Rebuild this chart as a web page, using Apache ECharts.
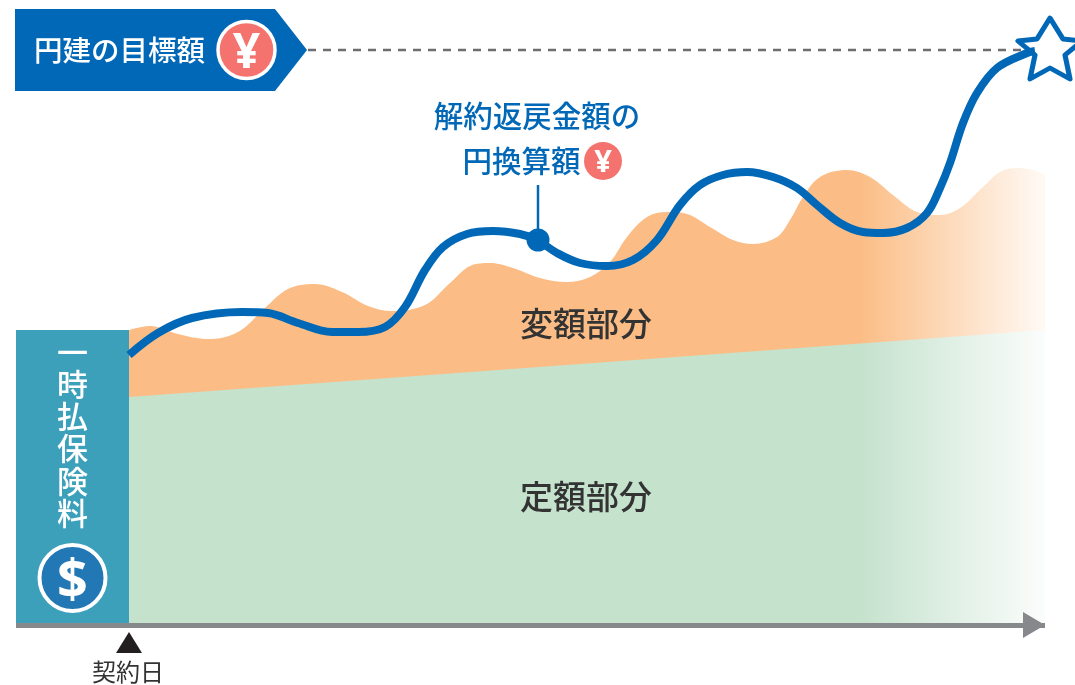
<!DOCTYPE html>
<html>
<head>
<meta charset="utf-8">
<style>
  html,body{margin:0;padding:0;background:#fff}
  #main{width:1075px;height:685px}
</style>
<script src="https://cdn.jsdelivr.net/npm/echarts@6/dist/echarts.min.js"></script>
</head>
<body>
<div id="main"></div>
<script>
// x: distance from contract date, y: height above the time axis
var premiumLine = [[-113,295],[0,295]];
var fixedLine = [[0,228],[917,295]];
var variableLine = [[0,295],[21,299],[49,291],[79,286],[109,293],[136,317],[159,336],[186,341],[213,333],[239,319],[263,314],[296,320],[321,342],[341,359],[361,362],[384,357],[411,347],[438,343],[461,348],[481,363],[498,388],[518,408],[538,413],[558,411],[581,398],[604,385],[624,381],[648,388],[661,405],[674,428],[691,448],[718,455],[741,448],[764,430],[788,413],[811,410],[831,417],[854,438],[871,453],[888,457],[904,455],[917,450]];
var refundLine = [[0,270],[29,292],[63,307],[113,313],[139,312],[169,302],[203,293],[229,293],[256,298],[276,318],[296,355],[314,378],[338,391],[364,394],[391,391],[408,385],[428,372],[451,362],[478,359],[504,365],[528,385],[551,420],[571,440],[594,450],[618,453],[644,448],[668,437],[688,420],[711,402],[734,393],[754,392],[778,397],[798,412],[811,437],[821,462],[834,502],[848,532],[868,557],[898,572],[906,574]];
var targetLine = [[179,575],[900,575]];
var calloutLine = [[409,385],[409,440]];
var calloutPoint = [[409,385]];
var starPoint = [[921,576.5]];
var contractPoint = [[0,-17.5]];
var contractTick = [0];

var blue = '#0068b6';
var jpFont = '"Noto Sans CJK JP"';
var starPath = 'path://M32 0L45 21L64 23L47 37L52 61L32 50L12 61L17 37L0 23L19 21Z';

function fade(from, to){
  return new echarts.graphic.LinearGradient(0,0,1,0,[
    {offset:0,color:from},{offset:0.797,color:from},{offset:1,color:to}
  ]);
}
function label(str,x,y,size,color){
  return {type:'text',z:20,style:{text:str,x:x,y:y,align:'center',verticalAlign:'middle',
    fontFamily:jpFont,fontSize:size,fontWeight:500,fill:color}};
}
function coin(x,y,r,fill,glyph,size,ring){
  return [
    {type:'circle',z:20,shape:{cx:x,cy:y,r:r},style:{fill:fill,stroke:ring?'#fff':null,lineWidth:ring||0}},
    {type:'text',z:21,style:{text:glyph,x:x,y:y+size*0.08,align:'center',verticalAlign:'middle',
      fontFamily:'"Open Sans"',fontWeight:'bold',fontSize:size,fill:'#fff'}}
  ];
}

var chart = echarts.init(document.getElementById('main'));
chart.setOption({
  animation:false,
  grid:{left:16,right:30,top:0,bottom:0,outerBoundsMode:'none'},
  xAxis:{
    type:'value',min:-113,max:916,splitLine:{show:false},z:5,
    axisLine:{show:true,onZero:true,symbol:['none','triangle'],symbolSize:[26,22],symbolOffset:[0,-11],
      lineStyle:{color:'#87888c',width:5,cap:'butt'}},
    axisTick:{show:false},
    axisLabel:{show:true,customValues:contractTick,margin:-25,padding:[0,2,0,0],fontFamily:jpFont,fontSize:24,color:'#333',
      formatter:function(){return '契約日';}}
  },
  yAxis:{type:'value',min:-60,max:625,show:false,splitLine:{show:false}},
  series:[
    {type:'line',data:variableLine,smooth:0.36,showSymbol:false,lineStyle:{width:0},
      areaStyle:{opacity:1,color:fade('#fbbd85','#fffaf6')}},
    {type:'line',data:fixedLine,showSymbol:false,lineStyle:{width:0},
      areaStyle:{opacity:1,color:fade('#c5e2cd','#fbfdfc')}},
    {type:'line',data:premiumLine,showSymbol:false,lineStyle:{width:0},
      areaStyle:{opacity:1,color:'#3ca0bb'}},
    {type:'line',data:targetLine,showSymbol:false,lineStyle:{color:'#6d6e71',width:2.5,type:[8,7]}},
    {type:'line',data:refundLine,smooth:0.36,showSymbol:false,lineStyle:{color:blue,width:8}},
    {type:'line',data:calloutLine,showSymbol:false,lineStyle:{color:blue,width:2.5}},
    {type:'scatter',data:calloutPoint,symbol:'circle',symbolSize:26,
      itemStyle:{color:blue,borderColor:'#fff',borderWidth:3,opacity:1}},
    {type:'scatter',data:starPoint,clip:false,symbol:starPath,symbolSize:[64,61],
      itemStyle:{color:'#fff',borderColor:blue,borderWidth:5,borderJoin:'round',opacity:1}},
    {type:'scatter',data:contractPoint,symbol:'triangle',symbolSize:[26,21],clip:false,
      itemStyle:{color:'#231f20',opacity:1}}
  ],
  graphic:[
    {type:'polygon',z:19,shape:{points:[[15,9],[275,9],[307,50],[275,91],[15,91]]},style:{fill:blue}},
    label('円建の目標額',119.5,50,28.5,'#fff')
  ].concat(coin(246.5,50,28.5,'#f4736f','¥',48,3.5)).concat([
    label('解約返戻金額の',537,116,29.5,blue),
    label('円換算額',521.5,161,29.5,blue)
  ]).concat(coin(603,161,19,'#f4736f','¥',31)).concat([
    label('変額部分',586,323,33,'#333'),
    label('定額部分',586,496,33,'#333'),
    {type:'text',z:20,style:{text:'一\n時\n払\n保\n険\n料',x:72.5,y:336,align:'center',verticalAlign:'top',
      fontFamily:jpFont,fontSize:31,fontWeight:500,lineHeight:32.2,fill:'#fff'}}
  ]).concat(coin(72.5,578,33,'#2178b4','$',54,4))
});
</script>
</body>
</html>
